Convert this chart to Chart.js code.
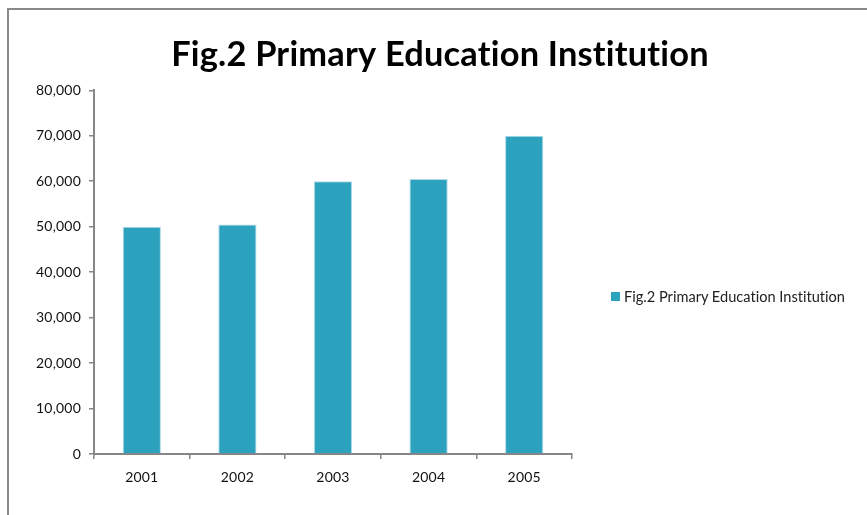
<!DOCTYPE html>
<html lang="en">
<head>
    <meta charset="UTF-8">
    <title>Fig.2 Primary Education Institution</title>
    <style>
        html, body { margin: 0; padding: 0; background: #fff; }
        .wrap { position: relative; width: 867px; height: 515px; overflow: hidden; }
        .frame {
            position: absolute; left: 7px; top: 8px; width: 900px; height: 600px;
            border-left: 2px solid #898989; border-top: 2px solid #898989;
            pointer-events: none;
        }
        #chart { position: absolute; left: 0; top: 0; }
        .legend {
            position: absolute; left: 611px; top: 288px;
            font: 14.6px Lato, sans-serif; color: #222; white-space: nowrap;
            font-variant-ligatures: none;
            display: flex; align-items: center;
        }
        .legend .swatch { width: 9px; height: 9px; margin-right: 4px; }
    </style>
</head>
<body>

<div class="wrap">
    <canvas id="chart" width="867" height="515"></canvas>
    <div class="frame"></div>
    <div class="legend" id="legend"></div>
</div>

<script src="https://cdn.jsdelivr.net/npm/chart.js@4/dist/chart.umd.min.js"></script>
<script>
    var years = ['2001', '2002', '2003', '2004', '2005'];
    var institutions = [50000, 50500, 60000, 60500, 70000];
    var seriesName = 'Fig.2 Primary Education Institution';
    var barColor = '#2da2bf';

    var axisColor = '#868686';
    var tickFont = { family: 'Lato', size: 14 };

    // legend sits to the right of the plot, drawn in html
    var legend = document.getElementById('legend');
    legend.innerHTML = '<span class="swatch" style="background:' + barColor + '"></span>' + seriesName;

    // a tiny letter spacing keeps Lato from joining "ti" into a ligature
    var noLigatures = {
        id: 'noLigatures',
        beforeUpdate: function (chart) { chart.ctx.letterSpacing = '0.2px'; },
        beforeDraw: function (chart) { chart.ctx.letterSpacing = '0.2px'; }
    };

    var ctx = document.getElementById('chart').getContext('2d');
    new Chart(ctx, {
        type: 'bar',
        plugins: [noLigatures],
        data: {
            labels: years,
            datasets: [{
                label: seriesName,
                data: institutions,
                backgroundColor: barColor,
                borderColor: '#aedbe6',
                borderWidth: 1,
                barPercentage: 0.4,
                categoryPercentage: 1
            }]
        },
        options: {
            responsive: false,
            animation: false,
            layout: { padding: { left: 13, right: 0, top: 0, bottom: 0 } },
            plugins: {
                legend: { display: false },
                tooltip: { enabled: false },
                title: {
                    display: true,
                    text: seriesName,
                    color: '#000',
                    font: { family: 'Lato', size: 34.4, weight: 'bold' },
                    padding: { top: 34, bottom: 15 }
                }
            },
            scales: {
                x: {
                    afterFit: function (scale) { scale.height = 61; },
                    grid: {
                        offset: true,
                        drawOnChartArea: false,
                        drawTicks: true,
                        tickLength: 5,
                        color: axisColor,
                        lineWidth: 1.5
                    },
                    border: { color: axisColor, width: 2 },
                    ticks: {
                        color: '#111',
                        padding: 10,
                        font: tickFont
                    }
                },
                y: {
                    min: 0,
                    max: 80000,
                    afterFit: function (scale) { scale.width = 81; },
                    grid: {
                        drawOnChartArea: false,
                        drawTicks: true,
                        tickLength: 5,
                        color: axisColor,
                        lineWidth: 1.5
                    },
                    border: { color: axisColor, width: 2 },
                    ticks: {
                        stepSize: 10000,
                        color: '#111',
                        padding: 8,
                        font: tickFont,
                        callback: function (v) { return v.toLocaleString('en-US'); }
                    }
                },
                // empty right-hand scale that reserves room for the legend
                side: {
                    type: 'linear',
                    position: 'right',
                    grid: { display: false },
                    border: { display: false },
                    ticks: { display: false },
                    afterFit: function (scale) { scale.width = 295; }
                }
            }
        }
    });
</script>

</body>
</html>
